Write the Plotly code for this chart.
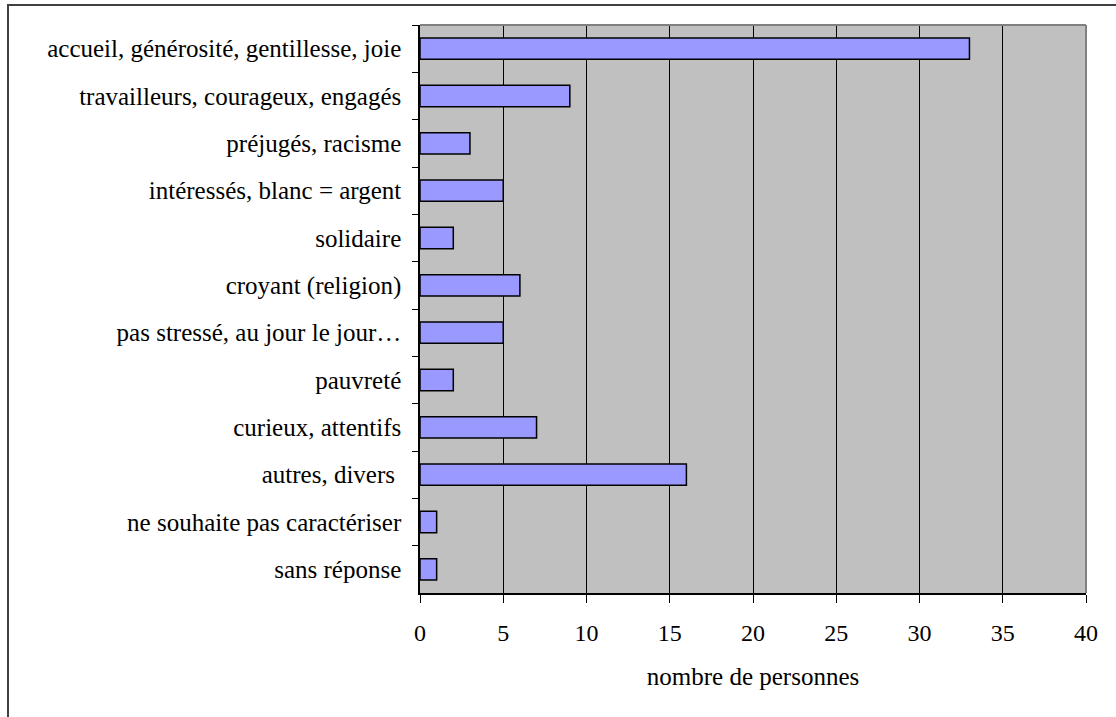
import plotly.graph_objects as go

categories = [
    "accueil, générosité, gentillesse, joie",
    "travailleurs, courageux, engagés",
    "préjugés, racisme",
    "intéressés, blanc = argent",
    "solidaire",
    "croyant (religion)",
    "pas stressé, au jour le jour…",
    "pauvreté",
    "curieux, attentifs",
    "autres, divers ",
    "ne souhaite pas caractériser",
    "sans réponse",
]
values = [33, 9, 3, 5, 2, 6, 5, 2, 7, 16, 1, 1]
x_ticks = [0, 5, 10, 15, 20, 25, 30, 35, 40]
x_title = "nombre de personnes"

FONT = "Liberation Serif"
FS = 25

fig = go.Figure(
    go.Bar(
        y=categories,
        x=values,
        orientation="h",
        marker=dict(color="#9999FF", line=dict(color="black", width=1.5)),
        width=0.45,
    )
)

fig.update_layout(
    width=1116,
    height=717,
    margin=dict(l=420, r=30, t=25, b=124, autoexpand=False),
    paper_bgcolor="white",
    plot_bgcolor="#C0C0C0",
    font=dict(family=FONT, size=FS, color="black"),
    showlegend=False,
    xaxis=dict(
        range=[0, 40],
        tickvals=x_ticks,
        ticktext=[str(v) for v in x_ticks],
        showgrid=True,
        gridcolor="black",
        gridwidth=1,
        zeroline=False,
        showline=True,
        linecolor="black",
        linewidth=1.5,
        ticks="outside",
        ticklen=8,
        tickcolor="black",
        ticklabelstandoff=9,
        automargin=False,
        tickfont=dict(family=FONT, size=24),
        title=dict(text=x_title, standoff=23, font=dict(family=FONT, size=FS)),
        fixedrange=True,
    ),
    yaxis=dict(
        categoryorder="array",
        categoryarray=categories,
        autorange="reversed",
        showgrid=False,
        zeroline=False,
        showline=True,
        linecolor="black",
        linewidth=1.5,
        ticks="outside",
        tickson="boundaries",
        ticklen=6,
        tickcolor="black",
        ticklabelstandoff=12,
        automargin=False,
        tickfont=dict(family=FONT, size=FS),
        fixedrange=True,
    ),
    shapes=[
        dict(type="line", xref="paper", yref="paper", x0=0, x1=1, y0=1, y1=1,
             line=dict(color="#808080", width=2), layer="above"),
        dict(type="line", xref="paper", yref="paper", x0=1, x1=1, y0=0, y1=1,
             line=dict(color="#808080", width=2), layer="above"),
        dict(type="rect", xref="paper", yref="paper",
             x0=(8 - 420) / 666, x1=(1130 - 420) / 666,
             y0=(593 - 730) / 568, y1=(593 - 5) / 568,
             line=dict(color="#404040", width=2), fillcolor="rgba(0,0,0,0)",
             layer="above"),
    ],
)

fig.write_html(
    "out.html",
    config={"displayModeBar": False},
    post_script="document.body.style.margin='0';document.body.style.padding='0';",
)
